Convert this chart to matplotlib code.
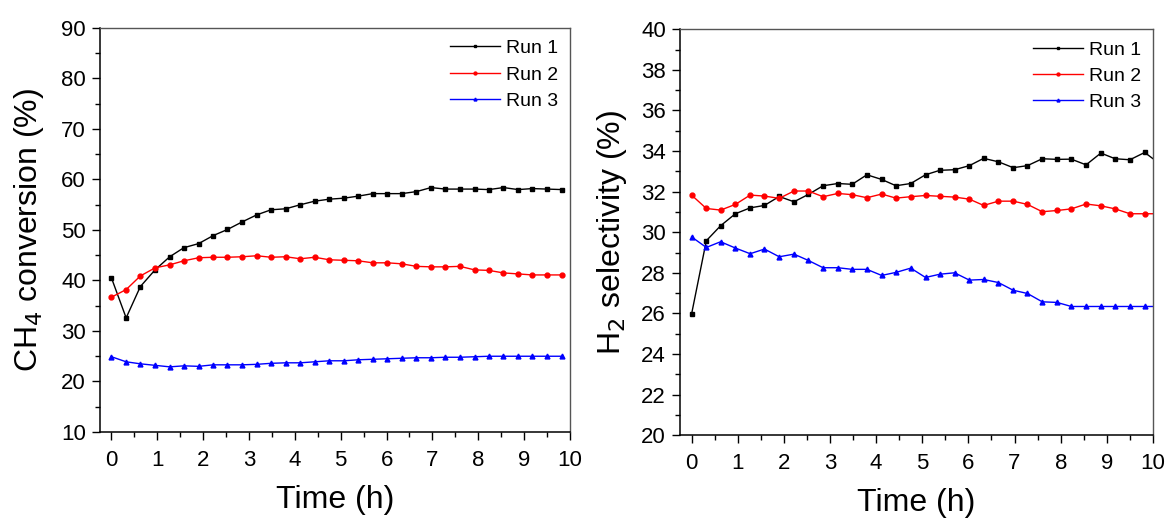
import matplotlib
matplotlib.use('Agg')
import matplotlib.pyplot as plt
from matplotlib.ticker import MultipleLocator

plt.rcParams['font.family'] = ['Liberation Sans', 'DejaVu Sans']

# sampling times (h), roughly every 19 min
time_h = [0.00, 0.32, 0.63, 0.95, 1.27, 1.58, 1.90, 2.22, 2.53, 2.85, 3.17,
          3.48, 3.80, 4.12, 4.43, 4.75, 5.07, 5.38, 5.70, 6.02, 6.33, 6.65,
          6.97, 7.28, 7.60, 7.92, 8.23, 8.55, 8.87, 9.18, 9.50, 9.82, 10.13]

# CH4 conversion (%)
conv_run1 = [40.5, 32.6, 38.8, 42.1, 44.7, 46.5, 47.3, 48.9, 50.1, 51.6, 53.0,
             54.0, 54.2, 55.0, 55.7, 56.1, 56.3, 56.7, 57.2, 57.2, 57.2, 57.6,
             58.4, 58.1, 58.1, 58.1, 58.0, 58.4, 58.0, 58.2, 58.1, 58.0]
conv_run2 = [36.7, 38.2, 40.9, 42.5, 43.1, 43.9, 44.5, 44.6, 44.6, 44.7, 44.9,
             44.6, 44.7, 44.3, 44.6, 44.1, 44.0, 43.9, 43.5, 43.5, 43.3, 42.8,
             42.7, 42.7, 42.8, 42.1, 42.0, 41.5, 41.3, 41.1, 41.1, 41.1]
conv_run3 = [24.9, 23.9, 23.5, 23.2, 22.9, 23.1, 23.0, 23.3, 23.3, 23.3, 23.4,
             23.6, 23.7, 23.7, 23.9, 24.1, 24.1, 24.3, 24.4, 24.5, 24.6, 24.7,
             24.7, 24.8, 24.8, 24.9, 25.0, 25.0, 25.0, 25.0, 25.0, 25.0]

# H2 selectivity (%)
sel_run1 = [25.96, 29.58, 30.32, 30.91, 31.20, 31.32, 31.76, 31.50, 31.86,
            32.29, 32.40, 32.36, 32.83, 32.60, 32.29, 32.40, 32.83, 33.05,
            33.08, 33.28, 33.64, 33.47, 33.18, 33.28, 33.62, 33.59, 33.60,
            33.32, 33.90, 33.62, 33.57, 33.93, 33.40]
sel_run2 = [31.83, 31.17, 31.09, 31.37, 31.83, 31.78, 31.67, 32.03, 32.03,
            31.75, 31.91, 31.85, 31.70, 31.88, 31.68, 31.75, 31.81, 31.77,
            31.73, 31.63, 31.32, 31.53, 31.53, 31.37, 31.01, 31.07, 31.15,
            31.39, 31.30, 31.15, 30.91, 30.91, 30.91]
sel_run3 = [29.77, 29.25, 29.53, 29.22, 28.94, 29.17, 28.79, 28.92, 28.61,
            28.25, 28.25, 28.17, 28.17, 27.87, 28.02, 28.23, 27.77, 27.93,
            28.00, 27.64, 27.67, 27.52, 27.14, 26.98, 26.57, 26.54, 26.34,
            26.34, 26.34, 26.34, 26.34, 26.34, 26.34]

run_labels = ['Run 1', 'Run 2', 'Run 3']
run_colors = ['black', 'red', 'blue']
run_markers = ['s', 'o', '^']


def style_axes(ax, ymin, ymax, ymajor):
    ax.set_xlim(-0.25, 10)
    ax.set_ylim(ymin, ymax)
    ax.xaxis.set_major_locator(MultipleLocator(1))
    ax.xaxis.set_minor_locator(MultipleLocator(0.5))
    ax.yaxis.set_major_locator(MultipleLocator(ymajor))
    ax.yaxis.set_minor_locator(MultipleLocator(ymajor / 2))
    ax.tick_params(which='both', direction='out', top=False, right=False,
                   labelsize=16, width=1)
    ax.tick_params(which='major', length=6)
    ax.tick_params(which='minor', length=3.5)
    ax.tick_params(axis='x', pad=7)
    ax.tick_params(axis='y', pad=4)
    for side in ['left', 'bottom']:
        ax.spines[side].set_linewidth(1.1)
    for side in ['top', 'right']:
        ax.spines[side].set_linewidth(1.0)
        ax.spines[side].set_color('#555555')
    ax.set_xlabel('Time (h)', fontsize=23, labelpad=10)
    ax.legend(loc='upper right', frameon=False, fontsize=14, numpoints=1,
              handlelength=2.6, handletextpad=0.3, labelspacing=0.45,
              borderaxespad=0.2, markerscale=0.6)


fig = plt.figure(figsize=(11.67, 5.23), dpi=100)
ax1 = fig.add_axes([0.0857, 0.174, 0.4027, 0.7725])
ax2 = fig.add_axes([0.5827, 0.168, 0.4053, 0.776])

n1 = len(conv_run1)
for series, lab, c, m in zip([conv_run1, conv_run2, conv_run3], run_labels,
                             run_colors, run_markers):
    ax1.plot(time_h[:n1], series, color=c, marker=m, markersize=3.5,
             linewidth=1.0, label=lab)

for series, lab, c, m in zip([sel_run1, sel_run2, sel_run3], run_labels,
                             run_colors, run_markers):
    ax2.plot(time_h[:len(series)], series, color=c, marker=m, markersize=3.5,
             linewidth=1.0, label=lab)

style_axes(ax1, 10, 90, 10)
style_axes(ax2, 20, 40, 2)
ax1.set_ylabel('CH$_4$ conversion (%)', fontsize=23, labelpad=11)
ax2.set_ylabel('H$_2$ selectivity (%)', fontsize=23, labelpad=9)

fig.savefig('out.png', dpi=100)
